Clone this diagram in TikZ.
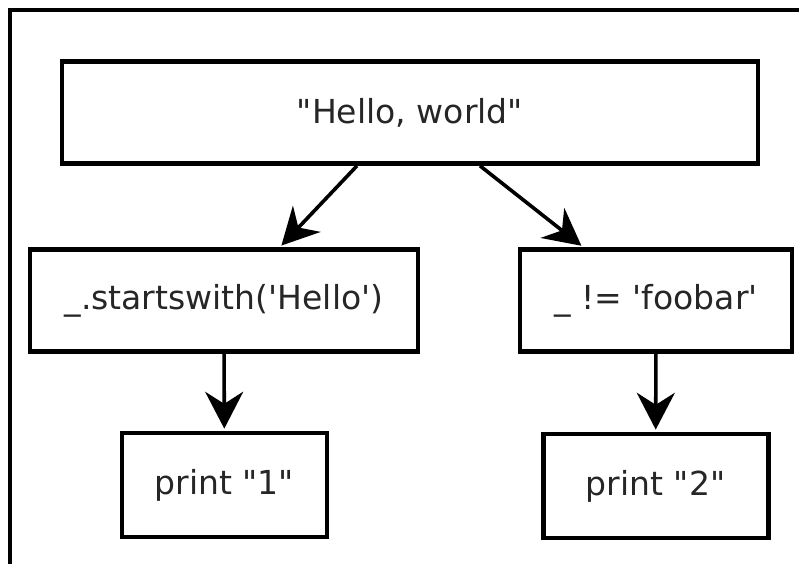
\documentclass[tikz,border=0pt]{standalone}
\usepackage{fontspec}
\setmainfont{DejaVu Sans}
\usetikzlibrary{arrows.meta}
\begin{document}
\begin{tikzpicture}
	\tikzset{box/.style={draw, line width=0.12cm, rectangle, align=center, minimum height=2.55cm, text=black!85, font=\fontsize{23.5}{28}\selectfont}}
	\tikzset{arrow/.style={draw, line width=0.09cm, shorten >=0.05cm, -{Stealth[length=0.92cm, width=0.95cm, inset=0.3cm]}}}
	\useasboundingbox (0,0) rectangle (19.975,-14.075);
	\draw[line width=0.12cm] (0.25,-14.6) -- (0.25,-0.25) -- (20.5,-0.25);
	
	\node[box, minimum width=17.4cm] (hw) at (10.25, -2.81) {\textquotedbl Hello, world\textquotedbl};
	\node[box, minimum width=9.7cm] (sw) at (5.6, -7.51) {\_.startswith(\textquotesingle Hello\textquotesingle)};
	\node[box, minimum width=6.8cm] (ne) at (16.4, -7.51) {\_ != \textquotesingle foobar\textquotesingle};
	\node[box, minimum width=5.125cm, minimum height=2.6cm] (p1) at (5.61, -12.125) {print \textquotedbl 1\textquotedbl};
	\node[box, minimum width=5.625cm, minimum height=2.6cm] (p2) at (16.39, -12.15) {print \textquotedbl 2\textquotedbl};
	
	\draw[arrow] ([xshift=-1.325cm]hw.south) -- ([xshift=1.4cm]sw.north);
	\draw[arrow] ([xshift=1.75cm]hw.south) -- ([xshift=-1.825cm]ne.north);
	
	\draw[arrow] (sw) -- (p1);
	\draw[arrow] (ne) -- (p2);
\end{tikzpicture}
\end{document}
